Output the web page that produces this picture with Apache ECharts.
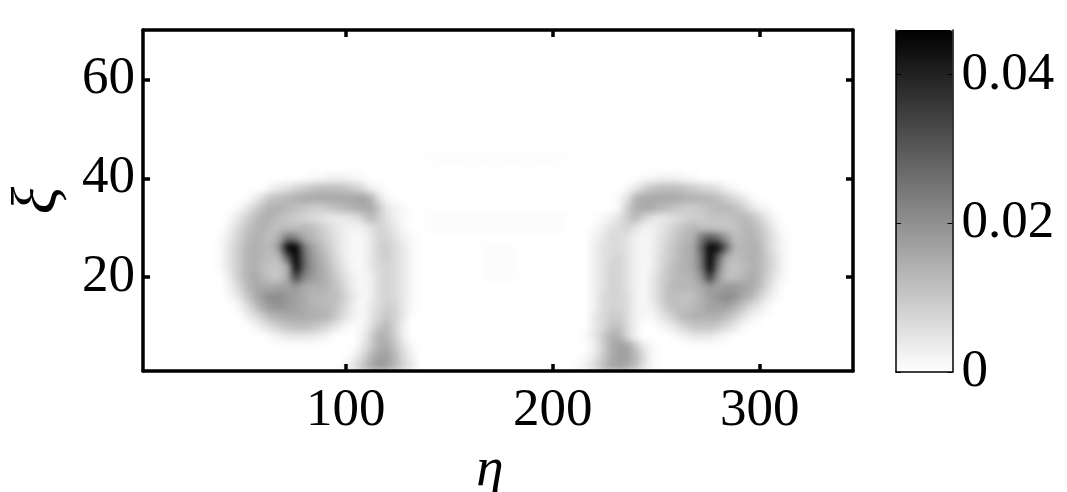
<!DOCTYPE html>
<html>
<head>
<meta charset="utf-8">
<title>heatmap</title>
<script src="https://cdn.jsdelivr.net/npm/echarts@6/dist/echarts.min.js"></script>
<style>
html,body{margin:0;padding:0;background:#fff;}
#main{width:1067px;height:492px;}
</style>
</head>
<body>
<div id="main"></div>
<script>
// values, one base-36 digit per cell, 1 digit = 0.0013
// rows run from the top of the marked area down to the axis
var leftCells = [
  '',
  '',
  '',
  '000000000000' + '1122211',
  '0000000' + '23467899987521',
  '00000' + '2589abcccccccdb41',
  '000' + '1369bba987789abcc8321',
  '00' + '1369bb98765433346a7421',
  '00' + '258ab9999a975322246531',
  '0' + '1369ba9cjhca864211366421',
  '0' + '147abaafzzj' + 'da74211367531',
  '0' + '147aba9anzl' + 'eb85211367531',
  '0' + '147ab98' + '8bzl' + 'fc96311356531',
  '00' + '37aca88cqh' + 'eca7421' + '256531',
  '00' + '259cccddecbba85212' + '56531',
  '00' + '137beggedcaa996312' + '56531',
  '000' + '148cefedcbaa8521' + '357631',
  '0000' + '247abcccbba7421' + '36863',
  '00000' + '135789987531' + '01' + '48a62',
  '0000000' + '12333321' + '000' + '26ba72',
  '000000000000000000' + '37bc841',
  '00000000000000000' + '25adda52',
  '0000000000000000' + '248ceda63'
];
// the faint middle part has its own finer digit
var midCells = [
  '',
  '11111111111111111',
  '',
  '', '', '', '',
  '11111111111111111',
  '11111111111111111',
  '',
  '00000001111',
  '00000001111',
  '00000001111',
  '00000001111',
  '', '', '', '', '', '', '', '', ''
];
var rightCells = [
  '',
  '',
  '',
  '000000000' + '1122211',
  '0000000' + '13689998765421',
  '000000' + '14acccccbbaa97531',
  '000000' + '17bcca987789aa97421',
  '0000' + '1247a643456778889a9631',
  '000' + '124564223579a98888aa852',
  '000' + '23554212468abjnke9ab9631',
  '000' + '24554212479bcmzxlaaba631',
  '000' + '24564212579bckzmb9aba741',
  '000' + '2466421258abcjzi989ba741',
  '000' + '2466421368aabfre99aca631',
  '000' + '2466421369aaacedeedc952',
  '000' + '2566521369989bdfgfca631',
  '000' + '256652125899abdddb8531',
  '000' + '35775211358abbbb97421',
  '000' + '3589520012468887531',
  '00' + '137bb6200001233321',
  '000' + '26bdd831',
  '00' + '137bdda51',
  '0' + '1259cdc941'
];

var digitStep = 0.0013, midStep = 0.0005;
var rowCount = 34, colCount = 85;
var leftStart = 8, midStart = 34, rightStart = 51;
var etaMin = 2, etaMax = 345, xiMin = 1, xiMax = 70, barMax = 0.046;
var etaTicks = [100, 200, 300];
var xiTicks = [20, 40, 60];
var barTicks = [0, 0.02, 0.04];

function buildCells() {
  var out = [];
  function put(str, start, j, step) {
    for (var k = 0; k < str.length; k++) {
      var v = parseInt(str.charAt(k), 36);
      if (v > 0) grid[j][start + k] = v * step;
    }
  }
  var grid = [];
  for (var j = 0; j < rowCount; j++) {
    grid.push([]);
    for (var i = 0; i < colCount; i++) grid[j].push(0);
  }
  for (var r = 0; r < leftCells.length; r++) {
    var row = leftCells.length - 1 - r;
    put(leftCells[r], leftStart, row, digitStep);
    put(midCells[r], midStart, row, midStep);
    put(rightCells[r], rightStart, row, digitStep);
  }
  for (var a = 0; a < rowCount; a++) {
    for (var b = 0; b < colCount; b++) out.push([b, a, grid[a][b]]);
  }
  return out;
}

var colNames = [], rowNames = [];
for (var c = 0; c < colCount; c++) colNames.push(String(c));
for (var d = 0; d < rowCount; d++) rowNames.push(String(d));

var fontName = '"Liberation Serif"';
var labelStyle = {fontFamily: fontName, fontSize: 53, color: '#000'};

function frameAxis(extra, lineWidth, tickLen, tickWidth, ticks) {
  var axis = {
    type: 'value',
    zlevel: 1,
    z: 6,
    splitLine: {show: false},
    axisLine: {show: true, onZero: false, lineStyle: {color: '#000', width: lineWidth}},
    axisTick: {show: !!ticks, inside: true, length: tickLen, customValues: ticks,
      lineStyle: {color: '#000', width: tickWidth}},
    axisLabel: {show: false}
  };
  return Object.assign(axis, extra);
}

var myChart = echarts.init(document.getElementById('main'), null, {renderer: 'canvas'});

var option = {
  animation: false,
  grid: [
    {left: 143, top: 34.4, width: 703.8, height: 336.6, outerBoundsMode: 'none'},
    {left: 143, top: 30, width: 710, height: 341, outerBoundsMode: 'none'},
    {left: 896, top: 30, width: 56.5, height: 342, outerBoundsMode: 'none'}
  ],
  xAxis: [
    {type: 'category', gridIndex: 0, data: colNames, show: false},
    frameAxis({gridIndex: 1, position: 'bottom', min: etaMin, max: etaMax,
      name: 'η', nameLocation: 'middle', nameGap: 53,
      nameTextStyle: {fontFamily: fontName, fontStyle: 'italic', fontSize: 55, color: '#000', padding: [0, 16, 0, 0]},
      axisLabel: Object.assign({show: true, margin: 14, customValues: etaTicks}, labelStyle)
    }, 3.5, 7, 3.5, etaTicks),
    frameAxis({gridIndex: 1, position: 'top', min: etaMin, max: etaMax}, 3.5, 7, 3.5, etaTicks),
    frameAxis({gridIndex: 2, position: 'bottom', min: 0, max: 1}, 1.5, 0, 0, null)
  ],
  yAxis: [
    {type: 'category', gridIndex: 0, data: rowNames, show: false},
    frameAxis({gridIndex: 1, position: 'left', min: xiMin, max: xiMax,
      name: 'ξ', nameLocation: 'middle', nameGap: 72, nameRotate: 90,
      nameTextStyle: {fontFamily: fontName, fontStyle: 'italic', fontSize: 64, color: '#000'},
      axisLabel: Object.assign({show: true, margin: 8, customValues: xiTicks}, labelStyle)
    }, 3.5, 7, 3.5, xiTicks),
    frameAxis({gridIndex: 1, position: 'right', min: xiMin, max: xiMax}, 3.5, 7, 3.5, xiTicks),
    frameAxis({gridIndex: 2, position: 'right', min: 0, max: barMax,
      axisLabel: Object.assign({show: true, margin: 9, customValues: barTicks,
        formatter: function (v) { return v === 0 ? '0' : v.toFixed(2); }}, labelStyle)
    }, 1.5, 5, 1, barTicks),
    frameAxis({gridIndex: 2, position: 'left', min: 0, max: barMax}, 1.5, 5, 1, barTicks)
  ],
  visualMap: {
    type: 'continuous',
    seriesIndex: 0,
    min: 0,
    max: barMax,
    calculable: false,
    hoverLink: false,
    left: 896,
    top: 30,
    padding: 0,
    zlevel: 0,
    z: 1,
    itemWidth: 56.5,
    itemHeight: 342,
    text: null,
    showLabel: false,
    inRange: {color: ['#ffffff', '#000000']}
  },
  series: [{
    type: 'heatmap',
    xAxisIndex: 0,
    yAxisIndex: 0,
    zlevel: -1,
    progressive: 0,
    silent: true,
    data: buildCells()
  }]
};

myChart.setOption(option);

// the original is shaded smoothly: soften the cell layer, cut to the plot frame
var heatLayer = document.querySelector('#main canvas[data-zr-dom-id="zr_-1"]');
if (heatLayer) {
  heatLayer.style.filter = 'blur(3.5px)';
  heatLayer.style.clipPath = 'inset(30px 214px 121px 143px)';
}
</script>
</body>
</html>
